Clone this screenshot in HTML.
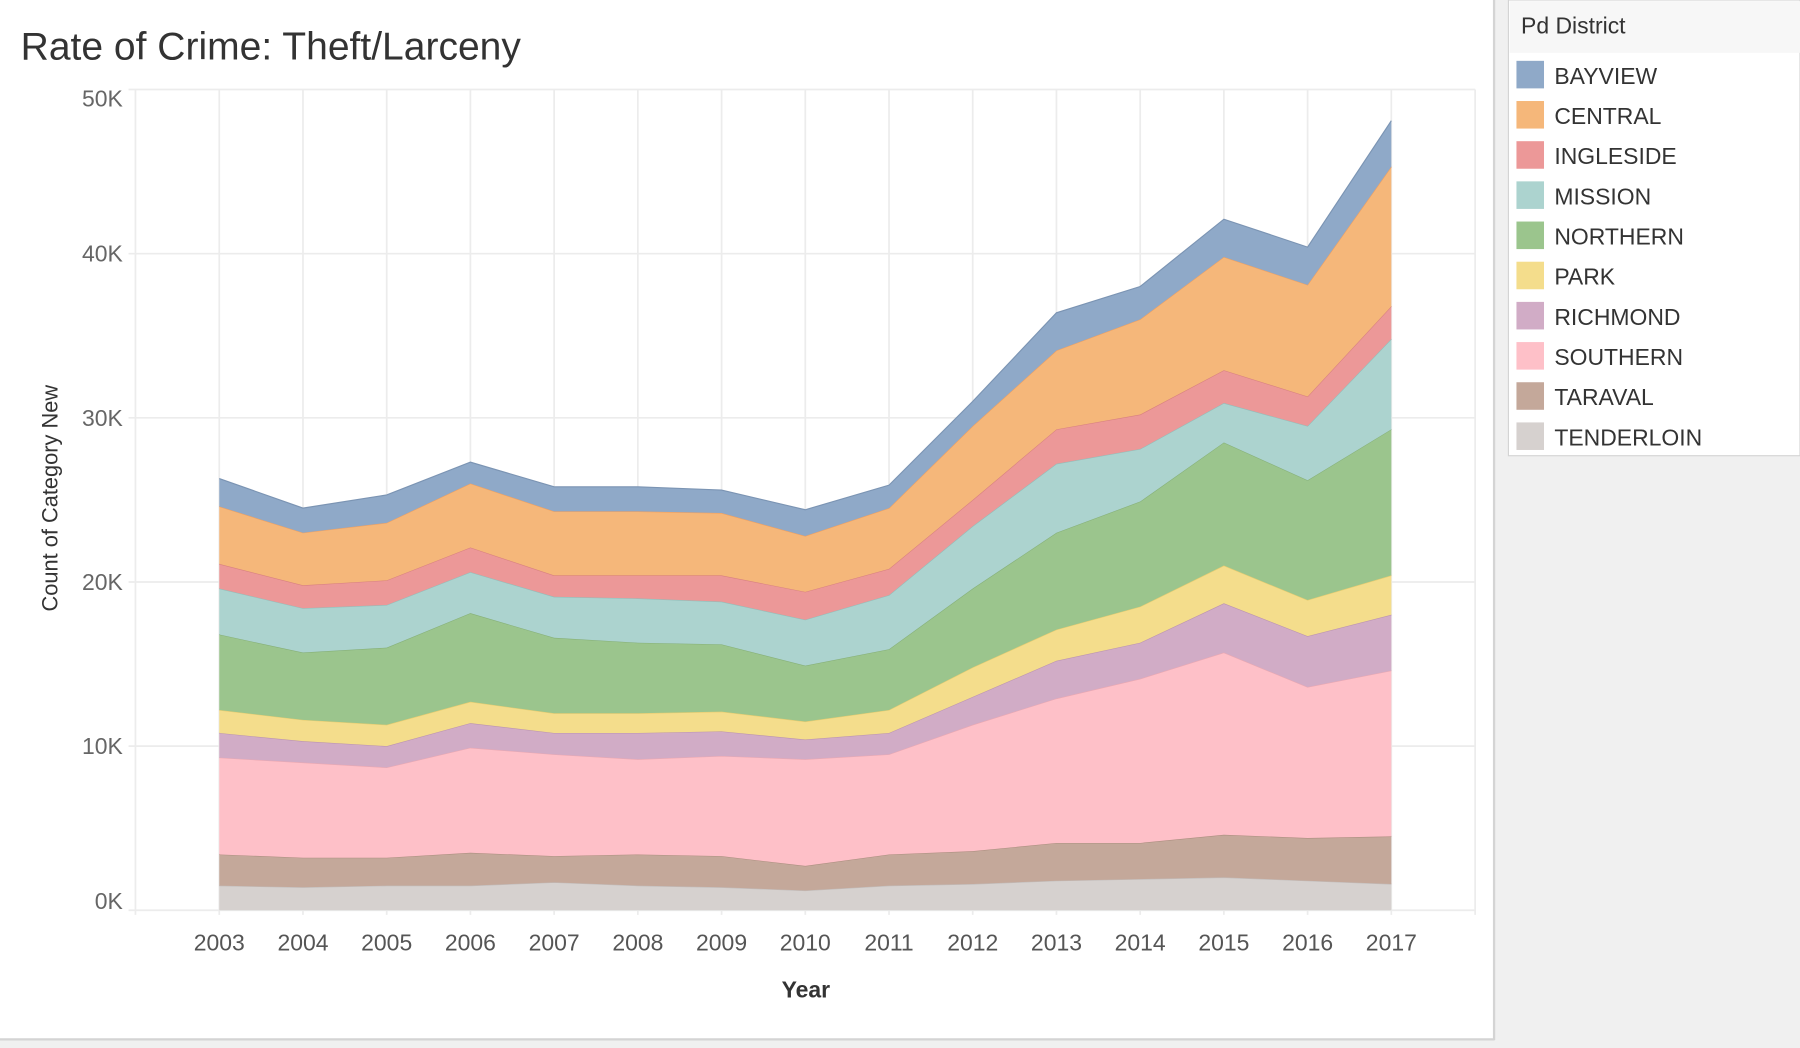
<!DOCTYPE html>
<html><head><meta charset="utf-8">
<style>
html,body{margin:0;padding:0;background:#fff;}
svg{display:block;font-family:"Liberation Sans","DejaVu Sans",sans-serif;}
</style></head>
<body>
<svg id="chart" width="1800" height="1048" viewBox="0 0 1568 913" preserveAspectRatio="none" xmlns="http://www.w3.org/2000/svg">
  <rect x="0" y="0" width="1568" height="913" fill="#f0f0f0"/>
  <rect x="0" y="0" width="1301" height="905" fill="#ffffff"/>
  <line x1="1301.5" y1="0" x2="1301.5" y2="906" stroke="#d4d4d4" stroke-width="2"/>
  <line x1="0" y1="905.5" x2="1302" y2="905.5" stroke="#d4d4d4" stroke-width="2"/>
  <text x="18" y="52" font-size="34" fill="#333">Rate of Crime: Theft/Larceny</text>
  <g id="grid"></g>
  <g id="areas"></g>
  <g id="axes"></g>
  <text transform="translate(50,434) rotate(-90)" text-anchor="middle" font-size="19" fill="#333">Count of Category New</text>
  <text x="702" y="869" text-anchor="middle" font-size="20" font-weight="bold" fill="#333">Year</text>
  <g>
    <rect x="1314" y="0" width="254" height="397" fill="#fff" stroke="#d4d4d4"/>
    <rect x="1315" y="1" width="253" height="45" fill="#f7f7f7"/>
    <text x="1325" y="29" font-size="20" fill="#333">Pd District</text>
    <g id="legend-items"></g>
  </g>
</svg>
<script>
const years = [2003,2004,2005,2006,2007,2008,2009,2010,2011,2012,2013,2014,2015,2016,2017];
const districts = ["TENDERLOIN","TARAVAL","SOUTHERN","RICHMOND","PARK","NORTHERN","MISSION","INGLESIDE","CENTRAL","BAYVIEW"];
const tenderloin = [1500,1400,1500,1500,1700,1500,1400,1200,1500,1600,1800,1900,2000,1800,1600];
const taraval    = [1900,1800,1700,2000,1600,1900,1900,1500,1900,2000,2300,2200,2600,2600,2900];
const southern   = [5900,5800,5500,6400,6200,5800,6100,6500,6100,7700,8800,10000,11100,9200,10100];
const richmond   = [1500,1300,1300,1500,1300,1600,1500,1200,1300,1700,2300,2200,3000,3100,3400];
const park       = [1400,1300,1300,1300,1200,1200,1200,1100,1400,1800,1900,2200,2300,2200,2400];
const northern   = [4600,4100,4700,5400,4600,4300,4100,3400,3700,4800,5900,6400,7500,7300,8900];
const mission    = [2800,2700,2600,2500,2500,2700,2600,2800,3300,3800,4200,3200,2400,3300,5500];
const ingleside  = [1500,1400,1500,1500,1300,1400,1600,1700,1600,1600,2100,2100,2000,1800,2000];
const central    = [3500,3200,3500,3900,3900,3900,3800,3400,3700,4500,4800,5800,6900,6800,8500];
const bayview    = [1700,1500,1700,1300,1500,1500,1400,1600,1400,1500,2300,2000,2300,2300,2800];
const seriesValues = [tenderloin,taraval,southern,richmond,park,northern,mission,ingleside,central,bayview];
const yTicks = [0,10000,20000,30000,40000,50000];
const yTickLabels = ["0K","10K","20K","30K","40K","50K"];
const legendOrder = ["BAYVIEW","CENTRAL","INGLESIDE","MISSION","NORTHERN","PARK","RICHMOND","SOUTHERN","TARAVAL","TENDERLOIN"];
const colors = {BAYVIEW:"#8fa9c8",CENTRAL:"#f5b77a",INGLESIDE:"#ec9898",MISSION:"#acd3cf",NORTHERN:"#9bc58d",PARK:"#f4dd8c",RICHMOND:"#d1acc6",SOUTHERN:"#fec0c8",TARAVAL:"#c4a89a",TENDERLOIN:"#d6d1cf"};
const edge = {BAYVIEW:"#7b94b3",CENTRAL:"#f0a060",INGLESIDE:"#d88080",MISSION:"#93bdb9",NORTHERN:"#86b078",PARK:"#e6cc70",RICHMOND:"#bb94b0",SOUTHERN:"#eaa8b2",TARAVAL:"#ad8f80",TENDERLOIN:"#c2bcba"};

const NS="http://www.w3.org/2000/svg";
const x0=191, xStep=(1212-191)/(years.length-1);
const xScale = i => x0 + i*xStep;
const yScale = v => 793 - v*(715/50000);
function mk(tag, attrs, parent){const e=document.createElementNS(NS,tag);for(const k in attrs)e.setAttribute(k,attrs[k]);parent.appendChild(e);return e;}

const grid=document.getElementById('grid');
yTicks.forEach((t,i)=>{
  const g=mk('line',{x1:112,x2:1285,y1:yScale(t),y2:yScale(t),stroke:"#ececec","stroke-width":1.5},grid);
  
  
});
years.forEach((y,i)=>{
  const g=mk('line',{x1:xScale(i),x2:xScale(i),y1:78,y2:797,stroke:"#ececec","stroke-width":1.5},grid);
  
  
});
mk('line',{x1:118,x2:118,y1:78,y2:797,stroke:"#ececec","stroke-width":1.5},grid);
mk('line',{x1:1285,x2:1285,y1:78,y2:797,stroke:"#ececec","stroke-width":1.5},grid);

const areas=document.getElementById('areas');
let base=years.map(()=>0);
districts.forEach((d,si)=>{
  const vals=seriesValues[si];
  const top=base.map((b,i)=>b+vals[i]);
  let pts=top.map((v,i)=>xScale(i)+","+yScale(v));
  for(let i=years.length-1;i>=0;i--) pts.push(xScale(i)+","+yScale(base[i]));
  const p=mk('polygon',{points:pts.join(" "),fill:colors[d]},areas);
  
  
  mk('polyline',{points:top.map((v,i)=>xScale(i)+","+yScale(v)).join(" "),fill:"none",stroke:edge[d],"stroke-width":1},areas);
  base=top;
});

const axes=document.getElementById('axes');
yTicks.forEach((t,i)=>{
  const tx=mk('text',{x:107,y:yScale(t)+7+(i===0?-8:0)+(i===5?8:0),"text-anchor":"end","font-size":20,fill:"#666"},axes);
  tx.textContent=yTickLabels[i];
  
  
});
years.forEach((y,i)=>{
  const tx=mk('text',{x:xScale(i),y:828,"text-anchor":"middle","font-size":20,fill:"#555"},axes);
  tx.textContent=y;
  
  
});

const leg=document.getElementById('legend-items');
legendOrder.forEach((d,i)=>{
  const cy=65+i*35;
  const r=mk('rect',{x:1321,y:cy-12,width:24,height:24,fill:colors[d]},leg);
  
  
  const t=mk('text',{x:1354,y:cy+8,"font-size":20,fill:"#333"},leg);
  t.textContent=d;
  
  
});
</script>
</body></html>
